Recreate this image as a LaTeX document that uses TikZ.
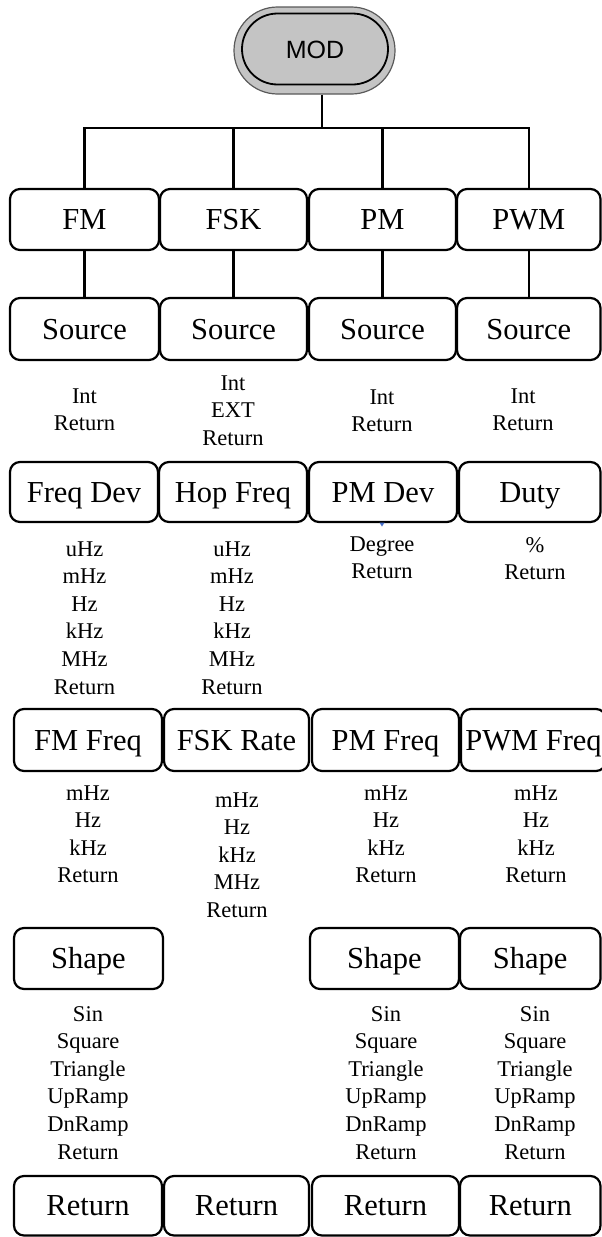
\documentclass[tikz,border=0pt]{standalone}
\usepackage{fontspec}
\setmainfont{Liberation Serif}
\newfontfamily\arialfont{Liberation Sans}
\usetikzlibrary{shapes.misc}
\definecolor{modgray}{RGB}{196,196,196}
\definecolor{ringgray}{RGB}{90,90,90}
\definecolor{bluemark}{RGB}{70,110,200}
\newcommand\optlist[1]{\begin{tabular}[t]{@{}c@{}}#1\end{tabular}}
\newcommand\menubtn[6]{\node[menubox, minimum width={(#3-#2)*1pt}, minimum height={(#5-#4)*1pt}] (#1) at ({(#2+#3)/2},{(#4+#5)/2}) {#6};}
\tikzset{
  menubox/.style={draw, line width=2.2pt, rounded corners=10pt, inner sep=0pt,
    font=\fontsize{30.5}{36}\selectfont, text height=20pt, text depth=0pt},
  opts/.style={anchor=base, inner sep=0pt, font=\fontsize{22.5}{27.6}\selectfont},
  conn/.style={line width=2.4pt},
}
\begin{document}
\begin{tikzpicture}[x=1pt,y=-1pt]
\useasboundingbox (0,0) rectangle (602,1237);
\fill[white] (0,0) rectangle (602,1237);

% MOD capsule
\node[rounded rectangle, draw=ringgray, line width=1.2pt, fill=modgray,
  minimum width=161pt, minimum height=87pt, inner sep=0pt] (modout) at (314.5,50.5) {};
\node[rounded rectangle, draw, line width=1.8pt, fill=modgray,
  minimum width=146pt, minimum height=71pt, inner sep=0pt,
  font=\arialfont\fontsize{25}{29}\selectfont, text height=18pt, text depth=0pt] (mod) at (315,49) {MOD};

% Row 1
\menubtn{fm}{10}{159}{189}{250}{FM}
\menubtn{fsk}{160}{307}{189}{250}{FSK}
\menubtn{pm}{309}{456}{189}{250}{PM}
\menubtn{pwm}{457}{600.5}{189}{250}{PWM}
% Row 2
\menubtn{fmsrc}{10}{159}{298}{360}{Source}
\menubtn{fsksrc}{160}{307}{298}{360}{Source}
\menubtn{pmsrc}{309}{456}{298}{360}{Source}
\menubtn{pwmsrc}{457}{600.5}{298}{360}{Source}
% Row 3
\menubtn{fmdev}{10}{158}{462}{522}{Freq Dev}
\menubtn{fskhop}{159}{307}{462}{522}{Hop Freq}
\menubtn{pmdev}{309}{457}{462}{522}{PM Dev}
\menubtn{duty}{459}{600.5}{462}{522}{Duty}
% Row 4
\menubtn{fmfreq}{14}{162}{709}{771}{FM Freq}
\menubtn{fskrate}{164}{309}{709}{771}{FSK Rate}
\menubtn{pmfreq}{312}{459}{709}{771}{PM Freq}
\menubtn{pwmfreq}{461}{606}{709}{771}{PWM Freq}
% Row 5
\menubtn{fmshape}{14}{163}{928}{989}{Shape}
\menubtn{pmshape}{310}{459}{928}{989}{Shape}
\menubtn{pwmshape}{460}{600.5}{928}{989}{Shape}
% Row 6
\menubtn{fmret}{14}{162}{1176}{1235.5}{Return}
\menubtn{fskret}{164}{309}{1176}{1235.5}{Return}
\menubtn{pmret}{312}{459}{1176}{1235.5}{Return}
\menubtn{pwmret}{460}{600.5}{1176}{1235.5}{Return}

% connectors
\coordinate (bus) at (322,128);
\draw[conn] (modout.south -| bus) -- (bus);
\draw[conn] (fm.north) |- (bus) -| (pwm.north);
\draw[conn] (fsk.north |- bus) -- (fsk.north);
\draw[conn] (pm.north |- bus) -- (pm.north);
\draw[conn] (fm.south) -- (fmsrc.north);
\draw[conn] (fsk.south) -- (fsksrc.north);
\draw[conn] (pm.south) -- (pmsrc.north);
\draw[conn] (pwm.south) -- (pwmsrc.north);

% small blue mark
\fill[bluemark] (379.5,522.5) -- (384.5,522.5) -- (382,526.5) -- cycle;

% option lists
\node[opts] (o2a) at (84.5,403) {\optlist{Int\\Return}};
\node[opts] (o2b) at (233,390) {\optlist{Int\\EXT\\Return}};
\node[opts] (o2c) at (382,404) {\optlist{Int\\Return}};
\node[opts] (o2d) at (523,403) {\optlist{Int\\Return}};

\node[opts] (o3a) at (84.5,556) {\optlist{uHz\\mHz\\Hz\\kHz\\MHz\\Return}};
\node[opts] (o3b) at (232,556) {\optlist{uHz\\mHz\\Hz\\kHz\\MHz\\Return}};
\node[opts] (o3c) at (382,551) {\optlist{Degree\\Return}};
\node[opts] (o3d) at (535,552) {\optlist{\%\\Return}};

\node[opts] (o4a) at (88,800) {\optlist{mHz\\Hz\\kHz\\Return}};
\node[opts] (o4b) at (237,807) {\optlist{mHz\\Hz\\kHz\\MHz\\Return}};
\node[opts] (o4c) at (386,800) {\optlist{mHz\\Hz\\kHz\\Return}};
\node[opts] (o4d) at (536,800) {\optlist{mHz\\Hz\\kHz\\Return}};

\node[opts] (o5a) at (88,1021) {\optlist{Sin\\Square\\Triangle\\UpRamp\\DnRamp\\Return}};
\node[opts] (o5c) at (386,1021) {\optlist{Sin\\Square\\Triangle\\UpRamp\\DnRamp\\Return}};
\node[opts] (o5d) at (535,1021) {\optlist{Sin\\Square\\Triangle\\UpRamp\\DnRamp\\Return}};
\end{tikzpicture}
\end{document}
